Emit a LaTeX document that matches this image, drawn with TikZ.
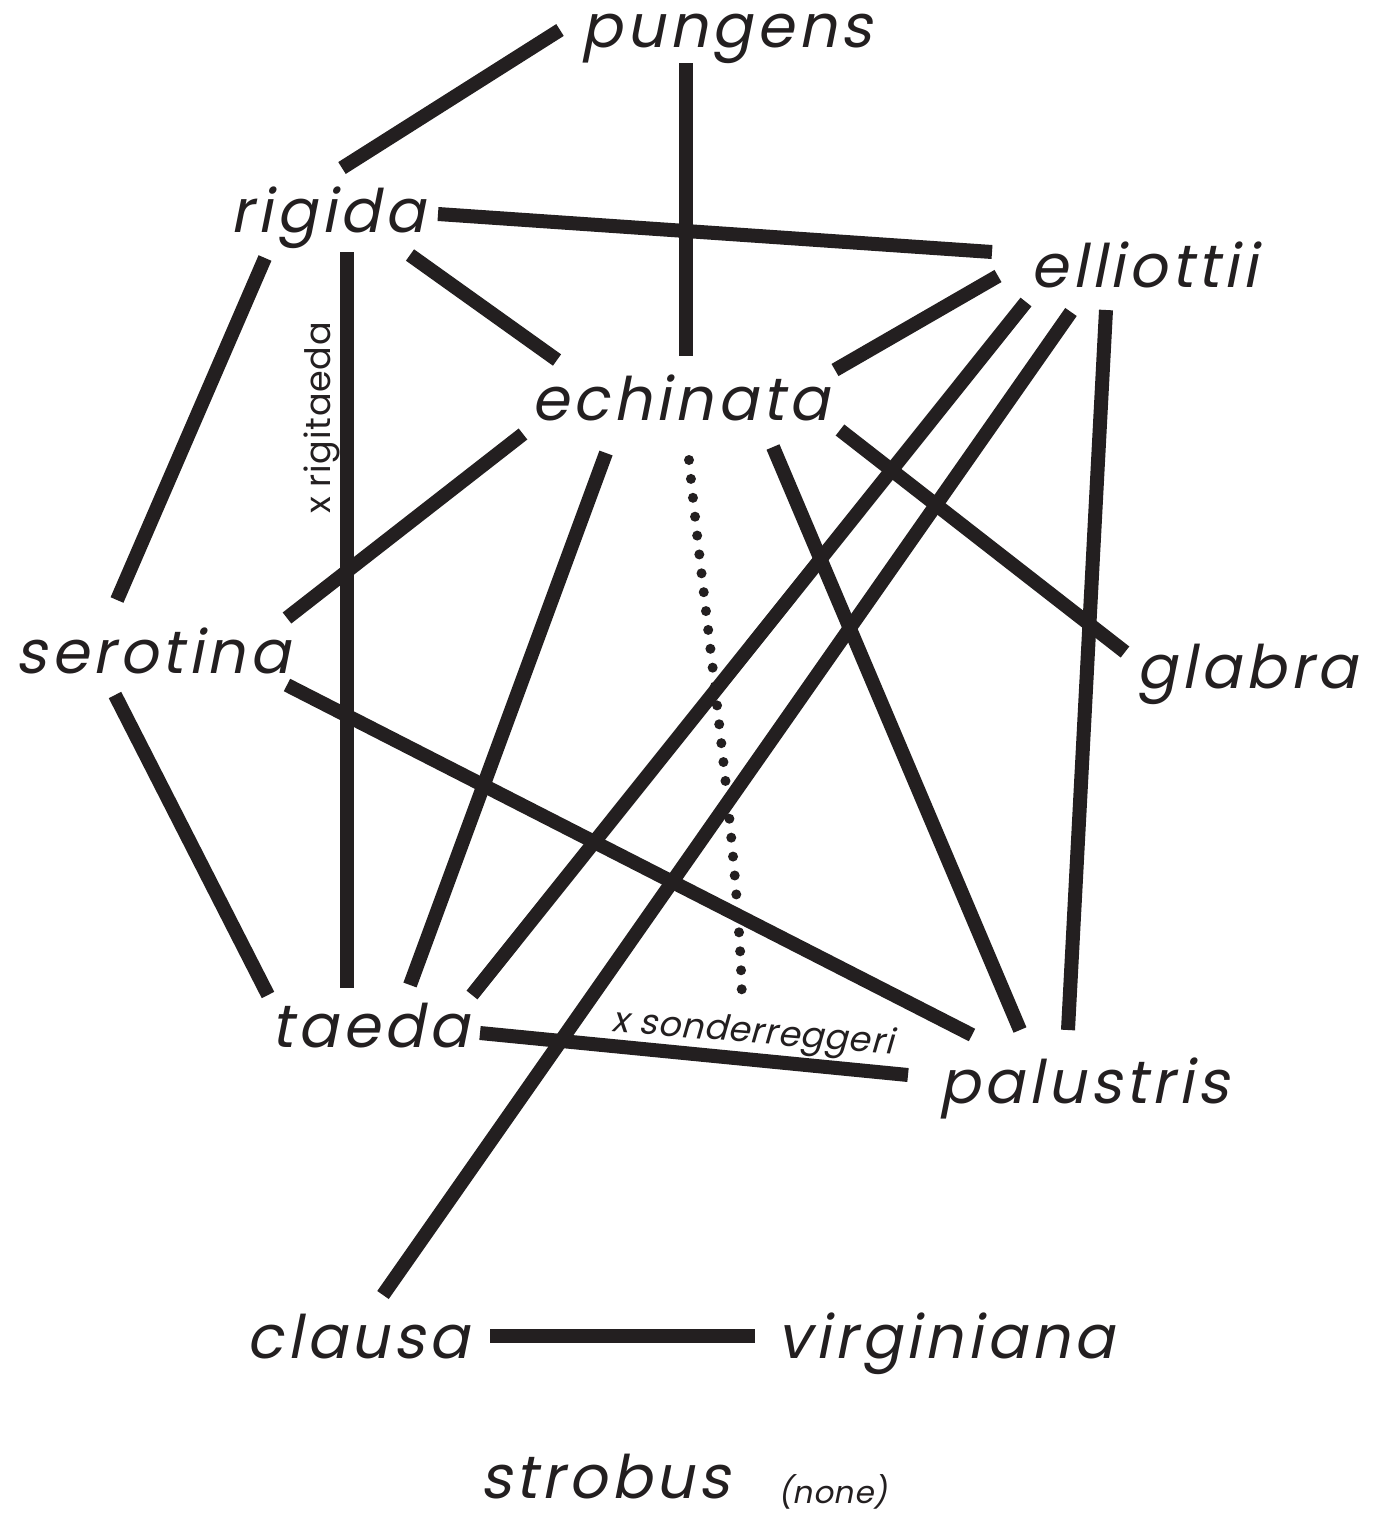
\documentclass[tikz,border=0pt]{standalone}
\usepackage{fontspec}
\newfontfamily\labfont{Poppins}[FakeSlant=0.2, LetterSpace=7]
\newfontfamily\smallfont{Poppins}[FakeSlant=0.2, LetterSpace=2]
\newfontfamily\uprfont{Poppins}[LetterSpace=2]
\definecolor{ink}{HTML}{231F20}
\begin{document}
\begin{tikzpicture}[x=1pt,y=-1pt,
  edge/.style={draw=ink, line width=14pt},
  dotedge/.style={draw=ink, line width=10pt, line cap=round, dash pattern=on 0pt off 19pt},
  lab/.style={font=\labfont\fontsize{60}{62}\selectfont, text=ink, inner sep=0pt, anchor=base},
  smalllab/.style={font=\smallfont\fontsize{35}{37}\selectfont, text=ink, inner sep=0pt, anchor=base},
  smallup/.style={font=\uprfont\fontsize{35}{37}\selectfont, text=ink, inner sep=0pt, anchor=base}]
\useasboundingbox (0,0) rectangle (1375,1516);
\fill[white] (0,0) rectangle (1375,1516);
% labels
\node[lab] (pungens) at (727,47) {pungens};
\node[lab] (rigida) at (328,232) {rigida};
\node[lab] (elliottii) at (1144,287) {elliottii};
\node[lab] (echinata) at (680,420) {echinata};
\node[lab] (serotina) at (153,673) {serotina};
\node[lab] (glabra) at (1247,688) {glabra};
\node[lab] (taeda) at (370,1047) {taeda};
\node[lab] (palustris) at (1084,1103) {palustris};
\node[lab] (clausa) at (358,1358) {clausa};
\node[lab] (virginiana) at (946,1358) {virginiana};
\node[lab, text depth=0pt] (strobus) at (605,1498) {strobus};
\node[smalllab, text depth=0pt, font=\smallfont\fontsize{31}{33}\selectfont] (none) at (833,1503) {(none)};
\node[smallup, rotate=90] (rigitaeda) at (330,418) {x rigitaeda};
\node[smalllab, rotate=-4.7] (sonder) at (752,1043) {x sonderreggeri};
% connector end points
\coordinate (pu-ri-a) at (560,30);  \coordinate (pu-ri-b) at (342,168);
\coordinate (pu-ec-a) at (686,63);  \coordinate (pu-ec-b) at (686,356);
\coordinate (ri-el-a) at (438,214); \coordinate (ri-el-b) at (992,252);
\coordinate (ri-ec-a) at (410,255); \coordinate (ri-ec-b) at (557,360);
\coordinate (ri-se-a) at (265,258); \coordinate (ri-se-b) at (117,600);
\coordinate (ri-ta-a) at (347,252); \coordinate (ri-ta-b) at (347,988);
\coordinate (el-ec-a) at (998,276); \coordinate (el-ec-b) at (835,370);
\coordinate (el-ta-a) at (1026,302); \coordinate (el-ta-b) at (472,995);
\coordinate (el-cl-a) at (1071,312); \coordinate (el-cl-b) at (383,1295);
\coordinate (el-pa-a) at (1106,310); \coordinate (el-pa-b) at (1068,1030);
\coordinate (ec-se-a) at (523,434); \coordinate (ec-se-b) at (287,618);
\coordinate (ec-ta-a) at (606,453); \coordinate (ec-ta-b) at (410,985);
\coordinate (ec-pa-a) at (773,447); \coordinate (ec-pa-b) at (1020,1030);
\coordinate (ec-gl-a) at (840,430); \coordinate (ec-gl-b) at (1125,652);
\coordinate (se-ta-a) at (115,695); \coordinate (se-ta-b) at (268,995);
\coordinate (se-pa-a) at (287,685); \coordinate (se-pa-b) at (972,1035);
\coordinate (ta-pa-a) at (480,1033); \coordinate (ta-pa-b) at (908,1075);
\coordinate (cl-vi-a) at (490,1336); \coordinate (cl-vi-b) at (755,1336);
\coordinate (ec-pa-da) at (689,460); \coordinate (ec-pa-db) at (742,1003);
% connectors
\draw[edge] (pu-ri-a) -- (pu-ri-b);
\draw[edge] (pu-ec-a) -- (pu-ec-b);
\draw[edge] (ri-el-a) -- (ri-el-b);
\draw[edge] (ri-ec-a) -- (ri-ec-b);
\draw[edge] (ri-se-a) -- (ri-se-b);
\draw[edge] (ri-ta-a) -- (ri-ta-b);
\draw[edge] (el-ec-a) -- (el-ec-b);
\draw[edge] (el-ta-a) -- (el-ta-b);
\draw[edge] (el-cl-a) -- (el-cl-b);
\draw[edge] (el-pa-a) -- (el-pa-b);
\draw[edge] (ec-se-a) -- (ec-se-b);
\draw[edge] (ec-ta-a) -- (ec-ta-b);
\draw[edge] (ec-pa-a) -- (ec-pa-b);
\draw[edge] (ec-gl-a) -- (ec-gl-b);
\draw[edge] (se-ta-a) -- (se-ta-b);
\draw[edge] (se-pa-a) -- (se-pa-b);
\draw[edge] (ta-pa-a) -- (ta-pa-b);
\draw[edge] (cl-vi-a) -- (cl-vi-b);
\draw[dotedge] (ec-pa-da) .. controls (705,620) and (740,860) .. (ec-pa-db);
\end{tikzpicture}
\end{document}
